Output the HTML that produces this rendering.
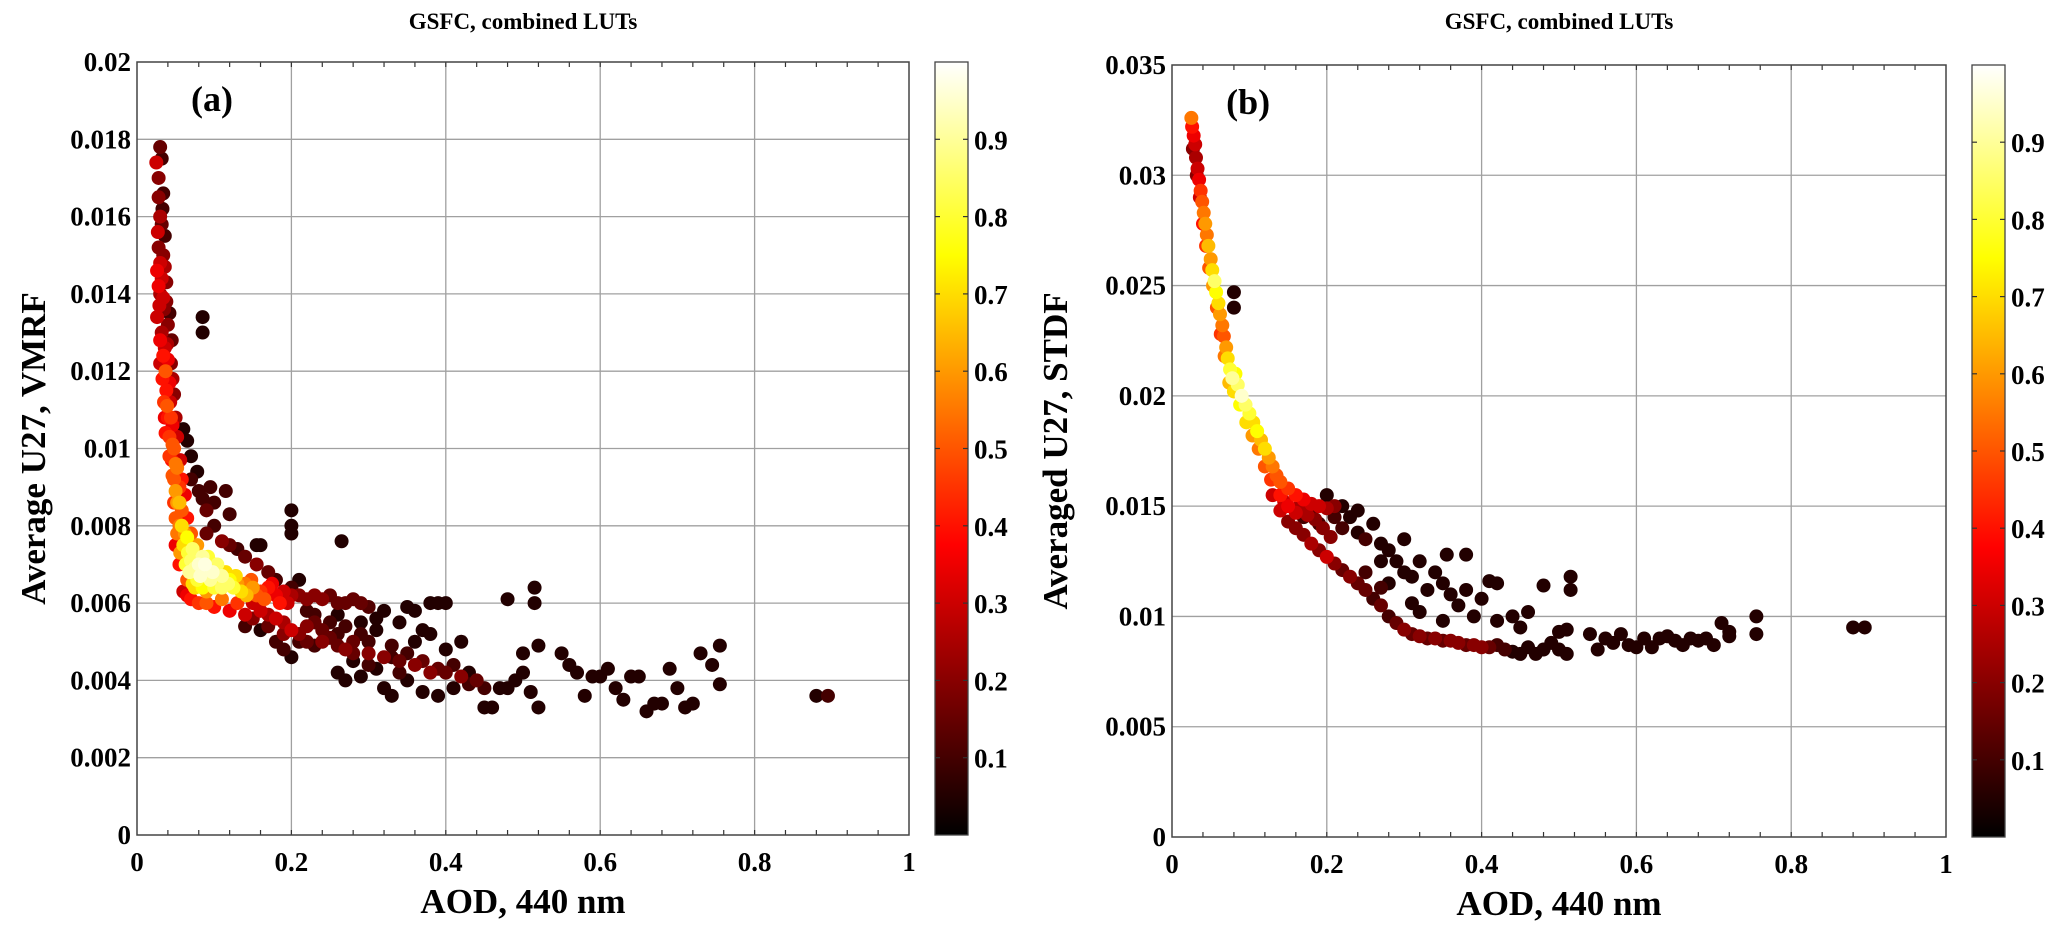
<!DOCTYPE html>
<html><head><meta charset="utf-8"><style>
html,body{margin:0;padding:0;background:#fff;}
svg{display:block;font-family:"Liberation Serif",serif;font-weight:bold;}
</style></head><body>
<svg id="fig" width="2067" height="936" viewBox="0 0 2067 936" xmlns="http://www.w3.org/2000/svg">
<defs>
<linearGradient id="hot" x1="0" y1="1" x2="0" y2="0">
<stop offset="0" stop-color="#000"/><stop offset="0.375" stop-color="#f00"/><stop offset="0.75" stop-color="#ff0"/><stop offset="1" stop-color="#fff"/>
</linearGradient>
</defs>
</svg>
<script>
const xTicks=[0,0.2,0.4,0.6,0.8,1];
const xTickLabels=["0","0.2","0.4","0.6","0.8","1"];
const aYTicks=[0,0.002,0.004,0.006,0.008,0.01,0.012,0.014,0.016,0.018,0.02];
const aYTickLabels=["0","0.002","0.004","0.006","0.008","0.01","0.012","0.014","0.016","0.018","0.02"];
const bYTicks=[0,0.005,0.01,0.015,0.02,0.025,0.03,0.035];
const bYTickLabels=["0","0.005","0.01","0.015","0.02","0.025","0.03","0.035"];
const cbTicks=[0.1,0.2,0.3,0.4,0.5,0.6,0.7,0.8,0.9];
const cbTickLabels=["0.1","0.2","0.3","0.4","0.5","0.6","0.7","0.8","0.9"];
// [AOD, value, density]
const aPoints=[[0.030,0.0178,0.15],[0.032,0.0175,0.1],[0.025,0.0174,0.3],[0.028,0.0170,0.2],[0.034,0.0166,0.1],[0.033,0.0162,0.1],[0.032,0.0158,0.15],[0.036,0.0155,0.1],[0.028,0.0152,0.2],[0.030,0.0148,0.3],[0.026,0.0146,0.35],[0.032,0.0144,0.3],[0.038,0.0143,0.2],[0.030,0.0140,0.25],[0.026,0.0134,0.3],[0.035,0.0136,0.2],[0.042,0.0135,0.1],[0.040,0.0132,0.2],[0.032,0.0130,0.25],[0.045,0.0128,0.15],[0.036,0.0126,0.3],[0.040,0.0123,0.35],[0.037,0.0120,0.5],[0.033,0.0118,0.4],[0.042,0.0117,0.35],[0.038,0.0115,0.4],[0.035,0.0112,0.45],[0.043,0.0112,0.3],[0.040,0.0108,0.4],[0.046,0.0106,0.35],[0.042,0.0103,0.45],[0.048,0.0100,0.5],[0.045,0.0097,0.4],[0.052,0.0095,0.55],[0.048,0.0092,0.5],[0.055,0.0090,0.45],[0.052,0.0086,0.6],[0.058,0.0084,0.5],[0.055,0.0080,0.55],[0.062,0.0078,0.6],[0.060,0.0075,0.7],[0.066,0.0073,0.8],[0.07,0.0071,0.85],[0.075,0.0069,0.9],[0.08,0.0070,0.95],[0.085,0.0072,0.9],[0.09,0.0068,0.85],[0.078,0.0066,0.8],[0.095,0.0066,0.9],[0.1,0.0070,0.75],[0.105,0.0066,0.8],[0.11,0.0064,0.85],[0.115,0.0068,0.7],[0.12,0.0066,0.75],[0.125,0.0064,0.8],[0.13,0.0065,0.6],[0.135,0.0063,0.7],[0.14,0.0065,0.55],[0.15,0.0064,0.6],[0.155,0.0062,0.5],[0.16,0.0063,0.45],[0.17,0.0064,0.4],[0.18,0.0062,0.35],[0.19,0.0063,0.3],[0.2,0.0062,0.25],[0.21,0.0062,0.2],[0.22,0.0061,0.2],[0.24,0.0061,0.2],[0.25,0.0062,0.15],[0.27,0.0060,0.15],[0.29,0.0060,0.15],[0.3,0.0059,0.12],
[0.06,0.0063,0.3],[0.07,0.0061,0.4],[0.08,0.0060,0.45],[0.1,0.0059,0.4],[0.12,0.0058,0.35],[0.14,0.0057,0.3],[0.065,0.0066,0.5],[0.055,0.0070,0.4],[0.05,0.0075,0.35],[0.09,0.0063,0.6],[0.075,0.0064,0.7],
[0.028,0.0165,0.2],[0.03,0.0160,0.25],[0.027,0.0156,0.3],[0.034,0.0150,0.2],[0.036,0.0147,0.25],[0.028,0.0142,0.35],[0.034,0.0139,0.3],[0.029,0.0137,0.3],[0.038,0.0138,0.2],[0.030,0.0128,0.35],[0.034,0.0124,0.4],[0.030,0.0122,0.3],[0.039,0.0127,0.25],[0.044,0.0122,0.2],[0.046,0.0118,0.25],[0.048,0.0114,0.2],[0.039,0.0111,0.5],[0.036,0.0108,0.35],[0.044,0.0108,0.45],[0.05,0.0108,0.25],[0.037,0.0104,0.4],[0.046,0.0101,0.5],[0.052,0.0103,0.3],[0.042,0.0098,0.45],[0.05,0.0096,0.55],[0.056,0.0097,0.3],[0.046,0.0093,0.5],[0.05,0.0089,0.6],[0.058,0.0092,0.4],[0.048,0.0086,0.45],[0.055,0.0086,0.65],[0.062,0.0088,0.35],[0.05,0.0082,0.5],[0.058,0.0080,0.7],[0.065,0.0082,0.4],[0.052,0.0078,0.55],[0.065,0.0077,0.75],[0.07,0.0078,0.5],[0.056,0.0073,0.6],[0.063,0.0070,0.8],[0.072,0.0074,0.85],[0.078,0.0075,0.6],[0.068,0.0068,0.9],[0.082,0.0067,0.95],[0.088,0.0070,0.97],[0.092,0.0072,0.8],[0.098,0.0068,0.95],[0.104,0.0070,0.85],[0.11,0.0067,0.9],[0.118,0.0065,0.85],[0.1,0.0064,0.8],[0.085,0.0064,0.75],[0.072,0.0065,0.7],[0.128,0.0067,0.7],[0.142,0.0062,0.65],[0.148,0.0066,0.5],[0.165,0.0061,0.5],[0.175,0.0065,0.35],[0.185,0.0060,0.4],[0.195,0.0060,0.3],[0.11,0.0061,0.55],[0.13,0.0060,0.45],[0.09,0.0060,0.5],[0.065,0.0062,0.35],[0.23,0.0062,0.2],[0.26,0.0060,0.15],[0.28,0.0061,0.15],
[0.06,0.0105,0.05],[0.065,0.0102,0.05],[0.07,0.0098,0.05],[0.078,0.0094,0.05],[0.07,0.0092,0.1],[0.085,0.0087,0.1],[0.09,0.0084,0.15],[0.08,0.0089,0.1],[0.095,0.0090,0.1],[0.1,0.0086,0.1],[0.115,0.0089,0.1],[0.12,0.0083,0.1],[0.09,0.0078,0.15],[0.1,0.0080,0.1],[0.11,0.0076,0.2],[0.12,0.0075,0.15],[0.13,0.0074,0.1],[0.14,0.0072,0.15],[0.16,0.0075,0.05],[0.155,0.0070,0.2],[0.155,0.0075,0.05],[0.085,0.0134,0.05],[0.085,0.0130,0.05],[0.2,0.0084,0.05],[0.2,0.0080,0.05],[0.2,0.0078,0.05],[0.265,0.0076,0.05],[0.17,0.0068,0.15],[0.18,0.0066,0.1],[0.2,0.0064,0.1],[0.21,0.0066,0.05],
[0.15,0.0060,0.3],[0.16,0.0058,0.3],[0.17,0.0057,0.25],[0.18,0.0056,0.3],[0.19,0.0055,0.25],[0.2,0.0053,0.3],[0.21,0.0052,0.2],[0.22,0.0054,0.2],[0.23,0.0055,0.15],[0.24,0.0050,0.2],[0.25,0.0051,0.15],[0.26,0.0049,0.15],[0.27,0.0048,0.2],[0.28,0.0050,0.15],[0.3,0.0047,0.2],[0.32,0.0046,0.2],[0.34,0.0045,0.15],[0.36,0.0044,0.2],[0.38,0.0042,0.2],[0.4,0.0042,0.15],[0.42,0.0041,0.2],[0.44,0.0040,0.15],[0.45,0.0038,0.1],[0.19,0.0048,0.1],[0.2,0.0046,0.05],[0.21,0.0050,0.1],[0.23,0.0049,0.1],[0.18,0.0050,0.1],[0.16,0.0053,0.05],[0.22,0.0058,0.1],[0.23,0.0057,0.1],[0.25,0.0055,0.1],[0.26,0.0057,0.05],[0.27,0.0054,0.1],[0.29,0.0055,0.05],[0.29,0.0052,0.1],[0.31,0.0053,0.05],[0.31,0.0056,0.05],[0.32,0.0058,0.05],[0.34,0.0055,0.05],[0.35,0.0059,0.05],[0.36,0.0058,0.05],[0.37,0.0053,0.05],[0.38,0.0060,0.05],[0.39,0.0060,0.05],[0.40,0.0060,0.05],[0.36,0.0050,0.05],[0.38,0.0052,0.05],[0.40,0.0048,0.05],[0.42,0.0050,0.05],[0.28,0.0045,0.05],[0.26,0.0042,0.05],[0.27,0.0040,0.05],[0.29,0.0041,0.05],[0.31,0.0043,0.05],[0.33,0.0046,0.1],[0.32,0.0038,0.05],[0.33,0.0036,0.05],[0.35,0.0040,0.05],[0.37,0.0037,0.05],[0.39,0.0036,0.05],[0.41,0.0038,0.05],[0.43,0.0042,0.05],[0.45,0.0033,0.05],[0.46,0.0033,0.05],[0.47,0.0038,0.05],[0.48,0.0038,0.05],[0.49,0.0040,0.05],[0.5,0.0042,0.05],[0.5,0.0047,0.05],[0.51,0.0037,0.05],[0.52,0.0033,0.05],[0.52,0.0049,0.05],[0.515,0.0064,0.05],[0.515,0.0060,0.05],[0.48,0.0061,0.05],[0.55,0.0047,0.05],[0.56,0.0044,0.05],[0.57,0.0042,0.05],[0.58,0.0036,0.05],[0.59,0.0041,0.05],[0.6,0.0041,0.05],[0.61,0.0043,0.05],[0.62,0.0038,0.05],[0.63,0.0035,0.05],[0.64,0.0041,0.05],[0.65,0.0041,0.05],[0.66,0.0032,0.05],[0.67,0.0034,0.05],[0.68,0.0034,0.05],[0.69,0.0043,0.05],[0.7,0.0038,0.05],[0.71,0.0033,0.05],[0.72,0.0034,0.05],[0.73,0.0047,0.05],[0.745,0.0044,0.05],[0.755,0.0049,0.05],[0.755,0.0039,0.05],[0.88,0.0036,0.05],[0.895,0.0036,0.1],
[0.17,0.0054,0.15],[0.19,0.0052,0.2],[0.22,0.0050,0.15],[0.24,0.0053,0.15],[0.26,0.0052,0.1],[0.28,0.0047,0.15],[0.3,0.0050,0.1],[0.33,0.0049,0.1],[0.35,0.0047,0.1],[0.37,0.0045,0.15],[0.39,0.0043,0.15],[0.41,0.0044,0.1],[0.43,0.0039,0.1],[0.15,0.0056,0.2],[0.14,0.0054,0.1],[0.3,0.0044,0.1],[0.34,0.0042,0.1]];
const bPoints=[[0.025,0.0326,0.55],[0.026,0.0322,0.4],[0.028,0.0318,0.35],[0.03,0.0314,0.3],[0.031,0.0308,0.25],[0.033,0.0303,0.3],[0.035,0.0298,0.35],[0.037,0.0293,0.45],[0.039,0.0288,0.5],[0.041,0.0283,0.55],[0.043,0.0278,0.6],[0.045,0.0273,0.55],[0.047,0.0268,0.65],[0.05,0.0262,0.6],[0.052,0.0257,0.7],[0.055,0.0252,0.85],[0.057,0.0247,0.75],[0.06,0.0242,0.7],[0.062,0.0237,0.6],[0.065,0.0232,0.55],[0.067,0.0227,0.5],[0.07,0.0222,0.6],[0.072,0.0217,0.7],[0.075,0.0212,0.8],[0.078,0.0208,0.9],[0.082,0.0210,0.75],[0.085,0.0205,0.85],[0.09,0.0200,0.95],[0.095,0.0196,0.85],[0.1,0.0192,0.8],[0.105,0.0188,0.7],[0.11,0.0184,0.75],[0.115,0.0180,0.65],[0.12,0.0176,0.7],[0.125,0.0172,0.6],[0.13,0.0168,0.55],[0.135,0.0164,0.5],[0.14,0.0161,0.5],[0.15,0.0158,0.45],[0.16,0.0155,0.4],[0.17,0.0153,0.35],[0.18,0.0151,0.3],[0.19,0.0150,0.3],[0.2,0.0149,0.25],[0.21,0.0150,0.2],
[0.027,0.0312,0.2],[0.032,0.0300,0.2],[0.036,0.0290,0.3],[0.04,0.0278,0.4],[0.044,0.0268,0.45],[0.048,0.0258,0.5],[0.053,0.0250,0.6],[0.058,0.0240,0.5],[0.063,0.0228,0.45],[0.068,0.0218,0.55],[0.074,0.0206,0.65],[0.08,0.0202,0.7],[0.088,0.0196,0.75],[0.096,0.0188,0.7],[0.104,0.0182,0.6],[0.112,0.0176,0.55],[0.12,0.0168,0.5],[0.128,0.0162,0.45],[0.14,0.0155,0.4],[0.15,0.0150,0.35],[0.16,0.0147,0.3],[0.165,0.0150,0.25],[0.175,0.0146,0.25],[0.185,0.0144,0.2],[0.195,0.0140,0.2],[0.205,0.0136,0.2],[0.145,0.0152,0.3],
[0.13,0.0155,0.3],[0.14,0.0148,0.3],[0.15,0.0143,0.2],[0.16,0.0140,0.2],[0.17,0.0137,0.2],[0.18,0.0133,0.25],[0.19,0.0130,0.2],[0.2,0.0127,0.3],[0.21,0.0124,0.2],[0.22,0.0121,0.15],[0.23,0.0118,0.2],[0.24,0.0115,0.15],[0.25,0.0112,0.15],[0.26,0.0108,0.1],[0.27,0.0105,0.15],[0.28,0.0100,0.1],[0.29,0.0097,0.15],[0.3,0.0094,0.2],[0.31,0.0092,0.15],[0.32,0.0091,0.2],[0.33,0.0090,0.15],[0.34,0.0090,0.2],[0.35,0.0089,0.15],[0.36,0.0089,0.2],[0.37,0.0088,0.2],[0.38,0.0087,0.15],[0.39,0.0087,0.2],[0.4,0.0086,0.2],[0.41,0.0086,0.15],[0.42,0.0087,0.1],[0.43,0.0085,0.1],[0.44,0.0084,0.05],[0.45,0.0083,0.05],[0.46,0.0086,0.05],[0.47,0.0083,0.05],[0.48,0.0085,0.05],[0.49,0.0088,0.05],[0.5,0.0085,0.05],[0.51,0.0083,0.05],[0.51,0.0094,0.05],
[0.17,0.0145,0.1],[0.18,0.0148,0.1],[0.19,0.0142,0.1],[0.2,0.0155,0.05],[0.21,0.0145,0.1],[0.22,0.0150,0.05],[0.22,0.0140,0.1],[0.23,0.0145,0.05],[0.24,0.0138,0.05],[0.24,0.0148,0.05],[0.25,0.0135,0.1],[0.26,0.0142,0.05],[0.27,0.0133,0.05],[0.27,0.0125,0.05],[0.28,0.0130,0.05],[0.29,0.0125,0.05],[0.3,0.0120,0.05],[0.3,0.0135,0.05],[0.31,0.0118,0.05],[0.32,0.0125,0.05],[0.33,0.0112,0.05],[0.34,0.0120,0.05],[0.35,0.0115,0.05],[0.355,0.0128,0.05],[0.36,0.0110,0.05],[0.37,0.0105,0.05],[0.38,0.0112,0.05],[0.38,0.0128,0.05],[0.39,0.0100,0.05],[0.4,0.0108,0.05],[0.41,0.0116,0.05],[0.42,0.0115,0.05],[0.42,0.0098,0.05],[0.44,0.0100,0.05],[0.45,0.0095,0.05],[0.46,0.0102,0.05],[0.48,0.0114,0.05],[0.5,0.0093,0.05],[0.515,0.0118,0.05],[0.515,0.0112,0.05],[0.25,0.0120,0.1],[0.28,0.0115,0.05],[0.32,0.0102,0.05],[0.35,0.0098,0.05],[0.31,0.0106,0.05],[0.27,0.0113,0.1],
[0.54,0.0092,0.05],[0.55,0.0085,0.05],[0.56,0.0090,0.05],[0.57,0.0088,0.05],[0.58,0.0092,0.05],[0.59,0.0087,0.05],[0.6,0.0086,0.05],[0.61,0.0090,0.05],[0.62,0.0086,0.05],[0.63,0.0090,0.05],[0.64,0.0091,0.05],[0.65,0.0089,0.05],[0.66,0.0087,0.05],[0.67,0.0090,0.05],[0.68,0.0089,0.05],[0.69,0.0090,0.05],[0.7,0.0087,0.05],[0.71,0.0097,0.05],[0.72,0.0093,0.05],[0.72,0.0091,0.05],[0.755,0.0100,0.05],[0.755,0.0092,0.05],[0.88,0.0095,0.05],[0.895,0.0095,0.05],[0.08,0.0247,0.05],[0.08,0.0240,0.05]];

const NS="http://www.w3.org/2000/svg";
const svg=document.getElementById('fig');
function mk(tag,attrs,parent,text){const e=document.createElementNS(NS,tag);for(const k in attrs)e.setAttribute(k,attrs[k]);if(text!==undefined)e.textContent=text;(parent||svg).appendChild(e);return e;}
function cl(v){return Math.max(0,Math.min(1,v));}
function hot(c){const r=cl(c/0.375),g=cl((c-0.375)/0.375),b=cl((c-0.75)/0.25);return `rgb(${Math.round(r*255)},${Math.round(g*255)},${Math.round(b*255)})`;}

function panel(id,L,R,T,B,ymax,yTicks,yLabels,points,ylabel,tag,cbL){
  const g=mk('g',{});
  
  
  const sx=v=>L+(R-L)*v, sy=v=>B-(B-T)*v/ymax;
  const t=mk('text',{x:(L+R)/2,y:29,'text-anchor':'middle','font-size':23},g,'GSFC, combined LUTs');
  
  
  xTicks.forEach(v=>{if(v>0&&v<1){const l=mk('line',{x1:sx(v),x2:sx(v),y1:T,y2:B,stroke:'#a0a0a0','stroke-width':1.3},g);}});
  yTicks.forEach(v=>{if(v>0&&v<ymax){const l=mk('line',{x1:L,x2:R,y1:sy(v),y2:sy(v),stroke:'#a0a0a0','stroke-width':1.3},g);}});
  for(let i=1;i<25;i++){const v=i*0.04;const xx=sx(v);mk('line',{x1:xx,x2:xx,y1:B,y2:B-5,stroke:'#333','stroke-width':1.2},g);mk('line',{x1:xx,x2:xx,y1:T,y2:T+5,stroke:'#333','stroke-width':1.2},g);}
  const pg=mk('g',{},g);
  
  
  points.slice().sort((a,b)=>a[2]-b[2]).forEach(p=>{
    const c=mk('circle',{cx:sx(p[0]),cy:sy(p[1]),r:7,fill:hot(p[2])},pg);
    
    
  });
  const fr=mk('rect',{x:L,y:T,width:R-L,height:B-T,fill:'none',stroke:'#444','stroke-width':1.5},g);
  
  
  xTicks.forEach((v,i)=>{const e=mk('text',{x:sx(v),y:B+36,'text-anchor':'middle','font-size':27},g,xTickLabels[i]);});
  yTicks.forEach((v,i)=>{const e=mk('text',{x:L-6,y:sy(v)+9,'text-anchor':'end','font-size':27},g,yLabels[i]);});
  const xt=mk('text',{x:(L+R)/2,y:B+78,'text-anchor':'middle','font-size':35},g,'AOD, 440 nm');
  
  
  const yx=id==='a'?L-92:L-105;
  const yt=mk('text',{x:yx,y:(T+B)/2,'text-anchor':'middle','font-size':35,transform:`rotate(-90 ${yx} ${(T+B)/2})`},g,ylabel);
  
  
  const pl=mk('text',{x:sx(0.07),y:T+49,'font-size':36},g,tag);
  
  
  const cw=33;
  const cb=mk('rect',{x:cbL,y:T,width:cw,height:B-T,fill:'url(#hot)',stroke:'#444','stroke-width':1.3},g);
  
  
  cbTicks.forEach((v,i)=>{const yy=B-(B-T)*v;
    mk('line',{x1:cbL,x2:cbL+5,y1:yy,y2:yy,stroke:'#333','stroke-width':1.2},g);
    mk('line',{x1:cbL+cw-5,x2:cbL+cw,y1:yy,y2:yy,stroke:'#333','stroke-width':1.2},g);
    const e=mk('text',{x:cbL+cw+6,y:yy+10,'font-size':27},g,cbTickLabels[i]);
    
    
  });
}
panel('a',137,909,62,835,0.02,aYTicks,aYTickLabels,aPoints,'Average U27, VMRF','(a)',935);
panel('b',1172,1946,65,837,0.035,bYTicks,bYTickLabels,bPoints,'Averaged U27, STDF','(b)',1972);
</script>
</body></html>
